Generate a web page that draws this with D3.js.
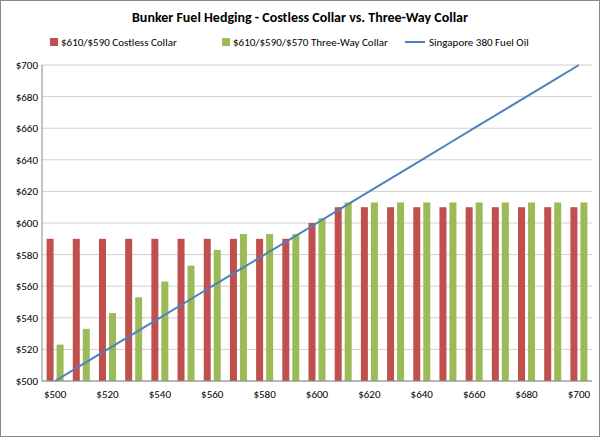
<!DOCTYPE html><html><head><script src="https://cdn.jsdelivr.net/npm/d3@7"></script>
<style>body{margin:0}svg{font-family:Calibri,"Liberation Sans",Arial,sans-serif}</style></head><body><svg width="600" height="437"></svg>
<script>
const categories=[500,510,520,530,540,550,560,570,580,590,600,610,620,630,640,650,660,670,680,690,700];
const costless=[590,590,590,590,590,590,590,590,590,590,600,610,610,610,610,610,610,610,610,610,610];
const threeWay=[523,533,543,553,563,573,583,593,593,593,603,613,613,613,613,613,613,613,613,613,613];
const fuel=[500,510,520,530,540,550,560,570,580,590,600,610,620,630,640,650,660,670,680,690,700];
const yTicks=[500,520,540,560,580,600,620,640,660,680,700];
const svg=d3.select("svg");
svg.append("rect").attr("x",0.5).attr("y",0.5).attr("width",599).attr("height",436).attr("fill","#fff").attr("stroke","#888");
const L=42,R=592,T=65,B=381;
const x=d3.scaleBand().domain(categories).range([L,R]).paddingInner(0).paddingOuter(0);
const y=d3.scaleLinear().domain([500,700]).range([B,T]);
svg.append("text").attr("x",300).attr("y",22).attr("text-anchor","middle").attr("font-weight","bold").attr("font-size",14).text("Bunker Fuel Hedging - Costless Collar vs. Three-Way Collar");
const g=svg.append("g");
g.selectAll(".gl").data(yTicks).join("line").attr("x1",L).attr("x2",R).attr("y1",d=>y(d)).attr("y2",d=>y(d)).attr("stroke","#d0d0d0");
const bw=7,gap=3;
g.selectAll(".r").data(categories).join("rect").attr("x",(d)=>x(d)+x.bandwidth()/2-gap/2-bw).attr("width",bw).attr("y",(d,i)=>y(costless[i])).attr("height",(d,i)=>B-y(costless[i])).attr("fill","#C0504D");
g.selectAll(".g").data(categories).join("rect").attr("x",(d)=>x(d)+x.bandwidth()/2+gap/2).attr("width",bw).attr("y",(d,i)=>y(threeWay[i])).attr("height",(d,i)=>B-y(threeWay[i])).attr("fill","#9BBB59");
g.append("path").datum(fuel).attr("fill","none").attr("stroke","#4F81BD").attr("stroke-width",2)
 .attr("d",d3.line().x((d,i)=>x(categories[i])+x.bandwidth()/2).y(d=>y(d)));
g.append("line").attr("x1",L).attr("x2",L).attr("y1",T).attr("y2",B).attr("stroke","#888");
g.append("line").attr("x1",L).attr("x2",R).attr("y1",B).attr("y2",B).attr("stroke","#888");
g.selectAll(".yl").data(yTicks).join("text").attr("x",L-4).attr("y",d=>y(d)+4).attr("text-anchor","end").attr("font-size",11).text(d=>"$"+d);
g.selectAll(".xl").data(categories.filter((d,i)=>i%2==0)).join("text").attr("x",d=>x(d)+x.bandwidth()/2).attr("y",B+17).attr("text-anchor","middle").attr("font-size",11).text(d=>"$"+d);
const leg=svg.append("g").attr("font-size",11);
[["$610/$590 Costless Collar","#C0504D","rect",50],["$610/$590/$570 Three-Way Collar","#9BBB59","rect",222],["Singapore 380 Fuel Oil","#4F81BD","line",415]].forEach(([t,c,k,lx])=>{
 if(k=="rect")leg.append("rect").attr("x",lx).attr("y",38).attr("width",8).attr("height",8).attr("fill",c);
 else leg.append("line").attr("x1",lx-10).attr("x2",lx+10).attr("y1",42).attr("y2",42).attr("stroke",c).attr("stroke-width",2);
 leg.append("text").attr("x",lx+(k=="rect"?11:14)).attr("y",46).text(t);
});
</script></body></html>
